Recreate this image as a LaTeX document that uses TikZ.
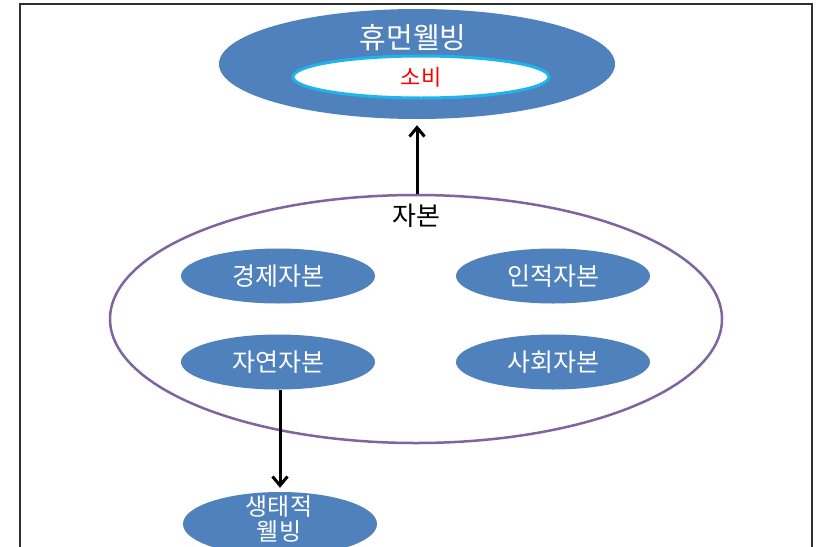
\documentclass[tikz,border=0pt]{standalone}
\usepackage{fontspec}
\setmainfont{Noto Sans CJK KR}
\usetikzlibrary{shapes.geometric,arrows.meta}
\definecolor{accblue}{HTML}{4F81BD}
\definecolor{accpurple}{HTML}{8064A2}
\definecolor{glowcyan}{HTML}{1FB4EC}
\definecolor{framegray}{HTML}{303030}
\tikzset{
  blueell/.style={ellipse, fill=accblue, draw=none, inner sep=0pt, text=white},
  capell/.style={blueell, minimum width=194pt, minimum height=55pt, font=\fontsize{25}{28}\selectfont},
  conn/.style={line width=3pt, -{Straight Barb[length=9pt,width=15pt,line width=3pt]}},
}
\begin{document}
\begin{tikzpicture}[x=1pt,y=-1pt]
\useasboundingbox (0,0) rectangle (818,546);
\clip (0,0) rectangle (818,546);
\fill[white] (0,0) rectangle (818,546);
% frame
\draw[framegray, line width=1.5pt] (20,560) -- (20,4) -- (812,4) -- (812,560);
% top ellipse
\node[blueell, minimum width=396pt, minimum height=110pt] (hw) at (417,64) {};
\node[text=white, font=\fontsize{29}{32}\selectfont, inner sep=0pt] (hwt) at (413,38) {휴먼웰빙};
\node[ellipse, fill=white, draw=glowcyan, line width=3pt, minimum width=256pt, minimum height=42pt, inner sep=0pt, text=red, font=\fontsize{22}{26}\selectfont] (cons) at (421,77) {소비};
% big capital ellipse
\node[ellipse, draw=accpurple, line width=2.5pt, minimum width=612pt, minimum height=248pt, inner sep=0pt] (cap) at (416,319) {};
\node[font=\fontsize{26}{30}\selectfont, inner sep=0pt] (capt) at (416,216) {자본};
% four capitals
\node[capell] (econ) at (278,276) {경제자본};
\node[capell] (human) at (553,276) {인적자본};
\node[capell] (nat) at (278,362) {자연자본};
\node[capell] (soc) at (553,362) {사회자본};
% ecological wellbeing
\node[blueell, minimum width=194pt, minimum height=64pt] (eco) at (280,524) {};
\node[text=white, align=center, font=\fontsize{24}{25}\selectfont, inner sep=0pt] (ecot) at (279,519) {생태적\\웰빙};
% connectors
\draw[conn, shorten >=6pt] ([xshift=1pt]cap.north) -- ([xshift=1pt]cap.north |- hw.south);
\draw[conn, shorten >=4pt] ([xshift=2pt]nat.south) -- (eco.north);
\end{tikzpicture}
\end{document}
